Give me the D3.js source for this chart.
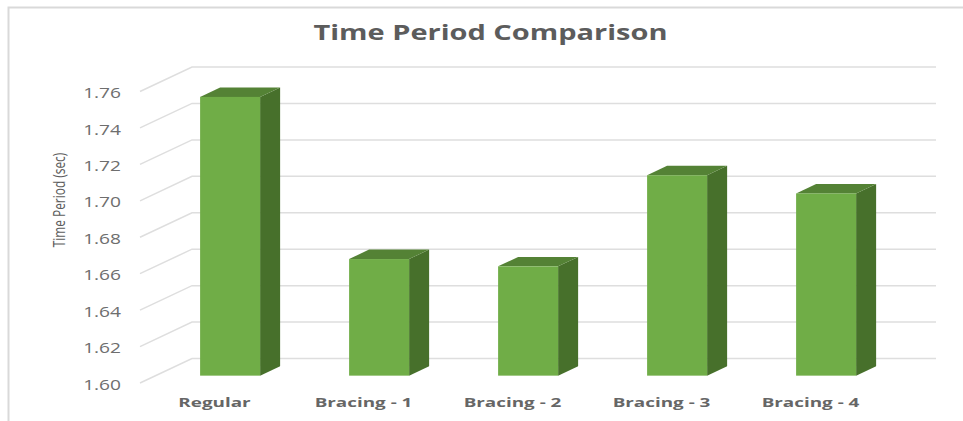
<!DOCTYPE html>
<html lang="en">
<head>
<meta charset="UTF-8">
<title>Time Period Comparison</title>
<script src="https://d3js.org/d3.v7.min.js"></script>
<style>
    html, body { margin: 0; padding: 0; background: #fff; }
    svg { display: block; }
    text { font-family: "Open Sans", sans-serif; fill: #636363; }
    .grid { stroke: #dedede; stroke-width: 1.5; fill: none; }
    .frame { stroke: #d9d9d9; stroke-width: 2; fill: none; }
</style>
</head>
<body>
<svg id="chart" width="963" height="421"></svg>
<script>
    const categories = ["Regular", "Bracing - 1", "Bracing - 2", "Bracing - 3", "Bracing - 4"];
    const timePeriod = [1.753, 1.664, 1.66, 1.71, 1.70];
    const yTicks = [1.60, 1.62, 1.64, 1.66, 1.68, 1.70, 1.72, 1.74, 1.76];

    const svg = d3.select("#chart");

    // front edge of the floor, the back wall is offset from it
    const x = d3.scaleBand().domain(categories).range([140, 885]);
    const y = d3.scaleLinear().domain([1.60, 1.76]).range([383, 91.5]);
    const depthX = 52, depthY = 24.5;
    const barWidth = 60;
    const barFront = 0.3, barBack = 0.685;

    const px = (c, z) => x(c) + x.bandwidth() / 2 + z * depthX;
    const py = (v, z) => y(v) - z * depthY;

    // stretch text sideways, the original picture is wider than it is tall
    function stretch(sel, k) {
        sel.each(function () {
            const len = this.getComputedTextLength();
            d3.select(this).attr("textLength", len * k).attr("lengthAdjust", "spacingAndGlyphs");
        });
    }

    // frame
    svg.append("path").attr("class", "frame").attr("d", "M8.5,421V7.5H963");

    // gridlines: side wall then back wall
    const grid = svg.append("g");
    yTicks.forEach(t => {
        grid.append("path").attr("class", "grid")
            .attr("d", d3.line()([[140, py(t, 0)], [140 + depthX, py(t, 1)], [936, py(t, 1)]]));
    });

    // bars
    const bars = svg.append("g").selectAll("g").data(categories).join("g");
    const line = d3.line();
    const value = i => timePeriod[i];

    bars.append("path").attr("fill", "#47702b")
        .attr("d", (c, i) => {
            const a = px(c, barFront) + barWidth / 2, b = px(c, barBack) + barWidth / 2;
            return line([[a, py(1.60, barFront)], [b, py(1.60, barBack)], [b, py(value(i), barBack)], [a, py(value(i), barFront)]]) + "Z";
        });
    bars.append("path").attr("fill", "#548235")
        .attr("d", (c, i) => {
            const h = barWidth / 2, v = value(i);
            return line([[px(c, barFront) - h, py(v, barFront)], [px(c, barFront) + h, py(v, barFront)],
                         [px(c, barBack) + h, py(v, barBack)], [px(c, barBack) - h, py(v, barBack)]]) + "Z";
        });
    bars.append("rect").attr("fill", "#70ad47")
        .attr("x", c => px(c, barFront) - barWidth / 2)
        .attr("width", barWidth)
        .attr("y", (c, i) => py(value(i), barFront))
        .attr("height", (c, i) => py(1.60, barFront) - py(value(i), barFront));

    // axes
    const yAxis = svg.append("g").attr("transform", "translate(124,0)")
        .call(d3.axisLeft(y).tickValues(yTicks).tickFormat(d3.format(".2f")).tickSize(0));
    yAxis.select(".domain").remove();
    yAxis.selectAll("text").attr("font-size", 14.5).attr("dy", "0.42em").style("font-family", '"Open Sans", sans-serif').style("fill", "#6e6e6e").call(stretch, 1.32);

    const xAxis = svg.append("g").attr("transform", "translate(0,398)")
        .call(d3.axisBottom(x).tickSize(0));
    xAxis.select(".domain").remove();
    xAxis.selectAll("text").attr("font-size", 13).attr("font-weight", 700).attr("y", 0).attr("dy", "0.71em").style("font-family", '"Open Sans", sans-serif').style("fill", "#666").call(stretch, 1.45);

    svg.append("text").attr("x", 490.5).attr("y", 40).attr("text-anchor", "middle")
        .attr("font-size", 21).attr("font-weight", 700).style("fill", "#5c5c5c")
        .text("Time Period Comparison").call(stretch, 1.38);

    svg.append("text").attr("transform", "translate(65,200) rotate(-90)").attr("text-anchor", "middle")
        .attr("font-size", 17).style("fill", "#5c5c5c")
        .text("Time Period (sec)").call(stretch, 0.7);
</script>
</body>
</html>
